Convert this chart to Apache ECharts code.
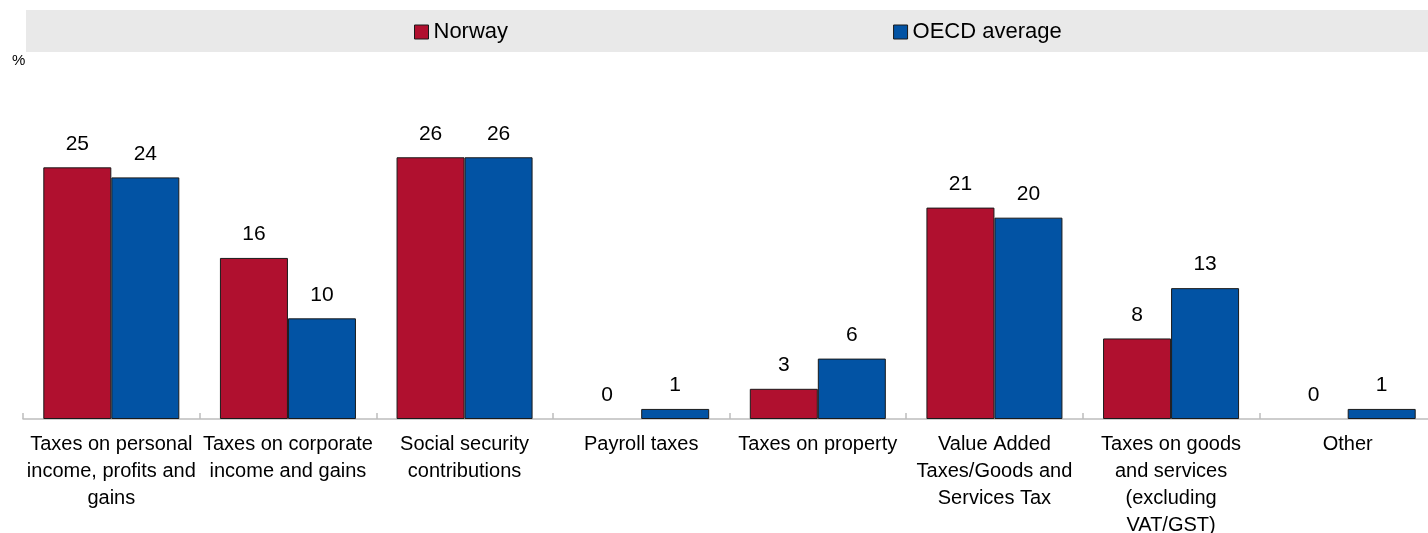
<!DOCTYPE html>
<html>
<head>
<meta charset="utf-8">
<script src="https://cdn.jsdelivr.net/npm/echarts@6/dist/echarts.min.js"></script>
<style>
  html, body { margin: 0; padding: 0; background: #fff; }
  #chart { width: 1428px; height: 533px; }
</style>
</head>
<body>
<div id="chart"></div>
<script>
// Tax structure: share of total tax revenue, %
const categories = [
  'Taxes on personal\nincome, profits and\ngains',
  'Taxes on corporate\nincome and gains',
  'Social security\ncontributions',
  'Payroll taxes',
  'Taxes on property',
  'Value Added\nTaxes/Goods and\nServices Tax',
  'Taxes on goods\nand services\n(excluding\nVAT/GST)',
  'Other'
];
const seriesNames = ['Norway', 'OECD average'];
const norway = [25, 16, 26, 0, 3, 21, 8, 0];
const oecdAverage = [24, 10, 26, 1, 6, 20, 13, 1];

const FONT = '"Liberation Sans", Arial, sans-serif';
const colors = ['#B0102F', '#0253A4'];

const chart = echarts.init(document.getElementById('chart'), null, { renderer: 'canvas' });

function barSeries(name, data, color) {
  return {
    name: name,
    type: 'bar',
    // zero-height bars get no outline so only their value label shows
    data: data.map(v => ({
      value: v,
      itemStyle: v === 0 ? { borderWidth: 0 } : undefined
    })),
    barGap: '0%',
    barCategoryGap: '23%',
    itemStyle: { color: color, borderColor: '#1a1a1a', borderWidth: 1 },
    label: {
      show: true,
      position: 'top',
      distance: 13,
      color: '#000',
      fontFamily: FONT,
      fontSize: 21
    },
    emphasis: { disabled: true }
  };
}

chart.setOption({
  animation: false,
  backgroundColor: '#fff',
  textStyle: { fontFamily: FONT },
  graphic: [
    {
      type: 'rect',
      z: -10,
      shape: { x: 26, y: 10, width: 1402, height: 42 },
      style: { fill: '#e9e9e9' }
    },
    {
      type: 'text',
      left: 12,
      top: 53,
      style: { text: '%', fill: '#000', font: '15px ' + FONT }
    }
  ],
  legend: {
    data: seriesNames,
    left: 414,
    top: 21,
    padding: 0,
    itemWidth: 14,
    itemHeight: 14,
    itemGap: 385,
    icon: 'rect',
    selectedMode: false,
    itemStyle: { borderColor: '#1a1a1a', borderWidth: 1 },
    textStyle: { color: '#000', fontSize: 22, fontFamily: FONT, lineHeight: 22 }
  },
  grid: {
    left: 23, width: 1413, top: 117, bottom: 114,
    containLabel: false,
    outerBoundsMode: 'none'
  },
  xAxis: {
    type: 'category',
    data: categories,
    axisLine: { show: true, lineStyle: { color: '#bdbdbd', width: 1.5 } },
    axisTick: { show: true, inside: true, length: 6, lineStyle: { color: '#bdbdbd', width: 1.5 } },
    axisLabel: {
      interval: 0,
      margin: 12,
      color: '#000',
      fontFamily: FONT,
      fontSize: 20,
      lineHeight: 27,
      align: 'center'
    }
  },
  yAxis: {
    type: 'value',
    min: 0,
    max: 30,
    show: false,
    splitLine: { show: false }
  },
  series: [
    barSeries(seriesNames[0], norway, colors[0]),
    barSeries(seriesNames[1], oecdAverage, colors[1])
  ]
});
</script>
</body>
</html>
